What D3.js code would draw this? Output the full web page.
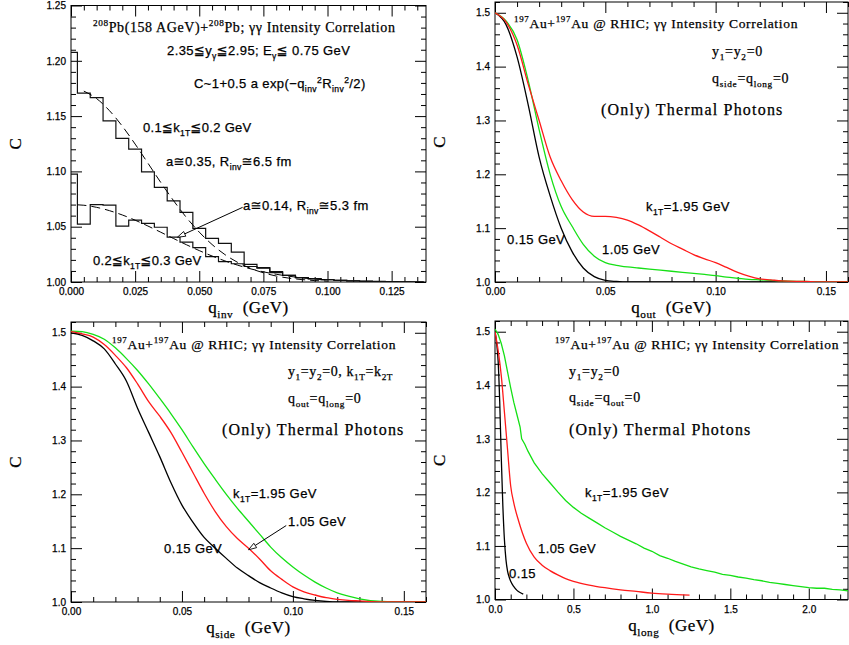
<!DOCTYPE html>
<html>
<head>
<meta charset="utf-8">
<script src="https://cdn.jsdelivr.net/npm/d3@7"></script>
<style>
body { margin: 0; background: #fff; }
svg { display: block; }
.serif { font-family: "Liberation Serif", "DejaVu Serif", serif; }
.sans { font-family: "Liberation Sans", "DejaVu Sans", sans-serif; }
</style>
</head>
<body>
<div id="chart"></div>
<script>
// ---- panel 1 : Pb+Pb histograms (bin edges, one value per bin) ----
var invEdges = [0, 0.0025, 0.0075, 0.0125, 0.0175, 0.0225, 0.0275, 0.0325, 0.0375, 0.0425, 0.0475,
    0.0525, 0.0575, 0.0625, 0.0675, 0.0725, 0.0775, 0.0825, 0.0875, 0.0925, 0.0975,
    0.1025, 0.1075, 0.1125, 0.1175, 0.1225, 0.1275, 0.1325, 0.1375];
var invUpper = [1.2077, 1.1707, 1.1667, 1.1456, 1.1299, 1.1202, 1.0996, 1.0855, 1.0734, 1.0629,
    1.0484, 1.0395, 1.0350, 1.0270, 1.0160, 1.0130, 1.0095, 1.0060, 1.0040, 1.0030,
    1.0022, 1.0016, 1.0010, 1.0008, 1.0005, 1.0003, 1.0002, 1.0001];
var invLower = [1.0976, 1.0523, 1.0700, 1.0695, 1.0505, 1.0560, 1.0530, 1.0495, 1.0405, 1.0360,
    1.0310, 1.0230, 1.0185, 1.0165, 1.0140, 1.0125, 1.0085, 1.0060, 1.0040, 1.0028,
    1.0022, 1.0015, 1.0010, 1.0006, 1.0004, 1.0002, 1.0001, 1.0000];
// dashed fits
var fitUpperQ = [0.005, 0.01, 0.015, 0.02, 0.025, 0.03, 0.035, 0.04, 0.045, 0.05, 0.055, 0.06, 0.065, 0.07, 0.075, 0.08, 0.085, 0.09, 0.095, 0.10];
var fitUpper = [1.1726, 1.1658, 1.1549, 1.1409, 1.1247, 1.1074, 1.0900, 1.0735, 1.0583, 1.0451, 1.0339, 1.0248, 1.0177, 1.0123, 1.0083, 1.0054, 1.0035, 1.0022, 1.0013, 1.0008];
var fitLowerQ = [0.0025, 0.005, 0.01, 0.015, 0.02, 0.025, 0.03, 0.035, 0.04, 0.045, 0.05, 0.055, 0.06, 0.065, 0.07, 0.075, 0.08, 0.085, 0.09, 0.095, 0.10];
var fitLower = [1.0698, 1.0694, 1.0675, 1.0645, 1.0606, 1.0559, 1.0506, 1.0450, 1.0393, 1.0337, 1.0284, 1.0235, 1.0191, 1.0152, 1.0119, 1.0092, 1.0070, 1.0052, 1.0038, 1.0027, 1.0019];

// ---- panel 2 : q_out ----
var qGrid = [0, 0.005, 0.01, 0.015, 0.02, 0.025, 0.03, 0.035, 0.04, 0.045, 0.05, 0.055, 0.06, 0.065, 0.07,
    0.075, 0.08, 0.085, 0.09, 0.095, 0.10, 0.105, 0.11, 0.115, 0.12, 0.125, 0.13, 0.14, 0.15, 0.16];
var outBlack = [1.500, 1.478, 1.418, 1.330, 1.232, 1.160, 1.100, 1.056, 1.026, 1.010, 1.003, 1.001, 1.000, 1.000, 1.000,
    1.000, 1.000, 1.000, 1.000, 1.000, 1.000, 1.000, 1.000, 1.000, 1.000, 1.000, 1.000, 1.000, 1.000, 1.000];
var outGreen = [1.500, 1.485, 1.450, 1.375, 1.283, 1.200, 1.140, 1.103, 1.070, 1.048, 1.036, 1.031, 1.028, 1.026, 1.024,
    1.022, 1.020, 1.018, 1.016, 1.014, 1.012, 1.009, 1.007, 1.005, 1.004, 1.003, 1.002, 1.001, 1.000, 1.000];
var outRed = [1.500, 1.483, 1.440, 1.368, 1.300, 1.232, 1.188, 1.153, 1.130, 1.122, 1.122, 1.120, 1.115, 1.106, 1.095,
    1.083, 1.071, 1.061, 1.051, 1.043, 1.036, 1.027, 1.018, 1.011, 1.006, 1.004, 1.002, 1.001, 1.000, 1.000];

// ---- panel 3 : q_side (same q grid) ----
var sideBlack = [1.500, 1.495, 1.485, 1.470, 1.442, 1.410, 1.360, 1.315, 1.270, 1.222, 1.180, 1.148, 1.120, 1.100, 1.081,
    1.063, 1.049, 1.036, 1.026, 1.017, 1.010, 1.006, 1.003, 1.001, 1.000, 1.000, 1.000, 1.000, 1.000, 1.000];
var sideRed = [1.502, 1.498, 1.492, 1.478, 1.458, 1.435, 1.405, 1.372, 1.345, 1.315, 1.278, 1.240, 1.202, 1.168, 1.140,
    1.118, 1.100, 1.080, 1.058, 1.042, 1.028, 1.019, 1.013, 1.008, 1.005, 1.003, 1.002, 1.000, 1.000, 1.000];
var sideGreen = [1.503, 1.502, 1.497, 1.488, 1.472, 1.452, 1.430, 1.405, 1.378, 1.350, 1.320, 1.288, 1.257, 1.228, 1.200,
    1.174, 1.150, 1.126, 1.102, 1.082, 1.065, 1.050, 1.037, 1.026, 1.017, 1.011, 1.006, 1.001, 1.000, 1.000];

// ---- panel 4 : q_long ----
var longBlackQ = [0, 0.01, 0.02, 0.03, 0.04, 0.05, 0.06, 0.07, 0.08, 0.09, 0.10, 0.12, 0.14, 0.16, 0.18];
var longBlack = [1.500, 1.480, 1.445, 1.370, 1.265, 1.175, 1.112, 1.074, 1.053, 1.042, 1.034, 1.024, 1.017, 1.013, 1.010];
var longRedQ = [0, 0.02, 0.04, 0.06, 0.08, 0.10, 0.12, 0.15, 0.20, 0.25, 0.30, 0.35, 0.40, 0.45, 0.50, 0.60, 0.70, 0.80, 0.90, 1.00, 1.10, 1.24];
var longRed = [1.500, 1.465, 1.418, 1.350, 1.280, 1.212, 1.180, 1.147, 1.105, 1.079, 1.064, 1.054, 1.046, 1.039, 1.034, 1.027, 1.022, 1.018, 1.015, 1.012, 1.010, 1.008];
var longGreenQ = [0, 0.02, 0.04, 0.06, 0.08, 0.10, 0.12, 0.14, 0.16, 0.17, 0.19, 0.21,
    0.25, 0.30, 0.35, 0.40, 0.45, 0.50, 0.55, 0.60, 0.65, 0.70, 0.75, 0.80, 0.85, 0.90, 0.95, 1.00,
    1.05, 1.10, 1.15, 1.20, 1.25, 1.30, 1.35, 1.40, 1.45, 1.50, 1.55, 1.60, 1.65, 1.70, 1.75, 1.80,
    1.85, 1.90, 1.95, 2.00, 2.05, 2.10, 2.15, 2.20, 2.25];
var longGreen = [1.505, 1.495, 1.478, 1.455, 1.425, 1.395, 1.368, 1.345, 1.322, 1.300, 1.290, 1.277,
    1.255, 1.235, 1.218, 1.201, 1.185, 1.172, 1.161, 1.152, 1.143, 1.134, 1.126, 1.118, 1.111, 1.104, 1.096, 1.090,
    1.082, 1.077, 1.071, 1.066, 1.061, 1.057, 1.054, 1.051, 1.047, 1.045, 1.042, 1.040, 1.037, 1.035, 1.032, 1.030,
    1.028, 1.026, 1.024, 1.022, 1.021, 1.021, 1.019, 1.018, 1.016];

var width = 849, height = 645;
var svg = d3.select("#chart").append("svg")
    .attr("width", width)
    .attr("height", height);

function zip(a, b) { return a.map(function(v, i) { return [v, b[i]]; }); }

// writes "x_{sub}" / "x^{sup}" strings as tspans
function rich(sel, str, size) {
    var parts = str.split(/([_^]\{[^}]*\})/);
    var shift = 0;
    parts.forEach(function(s) {
        if (!s) return;
        var m = s.match(/^([_^])\{([^}]*)\}$/);
        var t = sel.append("tspan");
        if (m) {
            var target = m[1] == "_" ? size * 0.3 : -size * 0.42;
            t.attr("dy", target - shift).style("font-size", (size * 0.66) + "px").text(m[2]);
            shift = target;
        } else {
            t.attr("dy", -shift).text(s);
            shift = 0;
        }
    });
}

function label(txt, x, y, cls, size, spacing) {
    var t = svg.append("text")
        .attr("class", cls)
        .attr("x", x).attr("y", y)
        .style("font-size", size + "px")
        .style("letter-spacing", (spacing || 0) + "px")
        .style("white-space", "pre")
        .attr("fill", "#000")
        .attr("stroke", "#000").attr("stroke-width", 0.25);
    rich(t, txt, size);
    return t;
}

function ticksBetween(lo, hi, step, majors) {
    var out = [];
    for (var i = 0; lo + i * step <= hi + 1e-9; i++) {
        var v = lo + i * step;
        var isMajor = majors.some(function(m) { return Math.abs(m - v) < step * 0.01; });
        if (!isMajor) out.push(v);
    }
    return out;
}

function panel(p) {
    var x = d3.scaleLinear().domain(p.xDomain).range([p.left, p.right]);
    var y = d3.scaleLinear().domain(p.yDomain).range([p.bottom, p.top]);
    var xMinor = ticksBetween(p.xDomain[0], p.xDomain[1], p.xMinorStep, p.xMajor);
    var yMinor = ticksBetween(p.yDomain[0], p.yDomain[1], p.yMinorStep, p.yMajor);

    var axes = svg.append("g")
        .attr("font-family", "Liberation Sans, Arial, sans-serif")
        .attr("font-size", 14);

    function put(axis, tx, ty) {
        var g = axes.append("g").attr("transform", "translate(" + tx + "," + ty + ")").call(axis);
        g.select(".domain").remove();
        g.selectAll("line").attr("stroke", "#000");
        g.selectAll("text").attr("fill", "#000").attr("stroke", "#000").attr("stroke-width", 0.25);
        return g;
    }
    var none = function() { return ""; };
    put(d3.axisBottom(x).tickValues(p.xMajor).tickSizeInner(-11).tickSizeOuter(0).tickPadding(6).tickFormat(d3.format(p.xFmt)), 0, p.bottom);
    put(d3.axisBottom(x).tickValues(xMinor).tickSizeInner(-5).tickSizeOuter(0).tickFormat(none), 0, p.bottom);
    put(d3.axisTop(x).tickValues(p.xMajor).tickSizeInner(-11).tickSizeOuter(0).tickFormat(none), 0, p.top);
    put(d3.axisTop(x).tickValues(xMinor).tickSizeInner(-5).tickSizeOuter(0).tickFormat(none), 0, p.top);
    put(d3.axisLeft(y).tickValues(p.yMajor).tickSizeInner(-11).tickSizeOuter(0).tickPadding(5).tickFormat(d3.format(p.yFmt)), p.left, 0);
    put(d3.axisLeft(y).tickValues(yMinor).tickSizeInner(-5).tickSizeOuter(0).tickFormat(none), p.left, 0);
    put(d3.axisRight(y).tickValues(p.yMajor).tickSizeInner(-11).tickSizeOuter(0).tickFormat(none), p.right, 0);
    put(d3.axisRight(y).tickValues(yMinor).tickSizeInner(-5).tickSizeOuter(0).tickFormat(none), p.right, 0);

    svg.append("rect")
        .attr("x", p.left).attr("y", p.top)
        .attr("width", p.right - p.left).attr("height", p.bottom - p.top)
        .attr("fill", "none").attr("stroke", "#000").attr("stroke-width", 1);

    svg.append("clipPath").attr("id", p.id)
        .append("rect")
        .attr("x", p.left).attr("y", p.top)
        .attr("width", p.right - p.left).attr("height", p.bottom - p.top);
    var plot = svg.append("g").attr("clip-path", "url(#" + p.id + ")");

    // axis titles
    label(p.xLabel, (p.left + p.right) / 2, p.bottom + 31, "serif", 17, 0.5)
        .attr("text-anchor", "middle");
    svg.append("text")
        .attr("class", "serif")
        .attr("transform", "translate(" + (p.left - 56) + "," + ((p.top + p.bottom) / 2) + ") rotate(-90)")
        .attr("text-anchor", "middle")
        .attr("dy", "0.35em")
        .attr("stroke", "#000").attr("stroke-width", 0.25)
        .style("font-size", "17px")
        .text("C");

    return { x: x, y: y, plot: plot };
}

function curve(P, pts, color, smooth) {
    var line = d3.line()
        .x(function(d) { return P.x(d[0]); })
        .y(function(d) { return P.y(d[1]); })
        .curve(smooth ? d3.curveMonotoneX : d3.curveLinear);
    P.plot.append("path")
        .attr("d", line(pts))
        .attr("fill", "none")
        .attr("stroke", color)
        .attr("stroke-width", 1.3);
}

function pointer(P, tip, tail) {
    var x1 = P.x(tip[0]), y1 = P.y(tip[1]), x2 = P.x(tail[0]), y2 = P.y(tail[1]);
    var ang = Math.atan2(y2 - y1, x2 - x1);
    var L = 8, W = 2.6;
    var bx = x1 + L * Math.cos(ang), by = y1 + L * Math.sin(ang);
    svg.append("line")
        .attr("x1", bx).attr("y1", by).attr("x2", x2).attr("y2", y2)
        .attr("stroke", "#000").attr("stroke-width", 1);
    var p1 = [bx - W * Math.sin(ang), by + W * Math.cos(ang)];
    var p2 = [bx + W * Math.sin(ang), by - W * Math.cos(ang)];
    svg.append("path")
        .attr("d", "M" + x1 + "," + y1 + "L" + p1 + "L" + p2 + "Z")
        .attr("fill", "#fff").attr("stroke", "#000").attr("stroke-width", 0.9);
}

var RED = "#ff1a1a", GREEN = "#16e016", BLACK = "#000";

// ---------- panel 1 ----------
var P1 = panel({
    id: "c1", left: 71, right: 426, top: 5.5, bottom: 282,
    xDomain: [0, 0.1384], yDomain: [1.0, 1.25],
    xMajor: [0, 0.025, 0.05, 0.075, 0.1, 0.125], xMinorStep: 0.005,
    yMajor: [1.0, 1.05, 1.1, 1.15, 1.2, 1.25], yMinorStep: 0.01,
    xFmt: ".3f", yFmt: ".2f", xLabel: "q_{inv}  (GeV)"
});
[invUpper, invLower].forEach(function(vals) {
    var pts = vals.map(function(v, i) { return [invEdges[i], v]; });
    pts.push([invEdges[invEdges.length - 1], vals[vals.length - 1]]);
    var step = d3.line()
        .x(function(d) { return P1.x(d[0]); })
        .y(function(d) { return P1.y(d[1]); })
        .curve(d3.curveStepAfter);
    P1.plot.append("path").attr("d", step(pts))
        .attr("fill", "none").attr("stroke", "#111").attr("stroke-width", 1.2);
});
[zip(fitUpperQ, fitUpper), zip(fitLowerQ, fitLower)].forEach(function(pts) {
    var ln = d3.line().x(function(d) { return P1.x(d[0]); }).y(function(d) { return P1.y(d[1]); })
        .curve(d3.curveMonotoneX);
    P1.plot.append("path").attr("d", ln(pts))
        .attr("fill", "none").attr("stroke", "#000").attr("stroke-width", 1)
        .attr("stroke-dasharray", "9,5");
});
pointer(P1, [0.0415, 1.0405], [0.0669, 1.0675]);

label("^{208}Pb(158 AGeV)+^{208}Pb; γγ Intensity Correlation", 93, 32, "serif", 14, 0.6);
label("2.35≦y_{γ}≦2.95; E_{γ}≦ 0.75 GeV", 167, 55, "sans", 13, 0.4);
label("C~1+0.5 a exp(−q_{inv}^{2}R_{inv}^{2}/2)", 194, 88, "sans", 13, 0.4);
label("0.1≦k_{1T}≦0.2 GeV", 143, 132, "sans", 13, 0.3);
label("a≅0.35, R_{inv}≅6.5 fm", 166, 166, "sans", 13, 0.4);
label("a≅0.14, R_{inv}≅5.3 fm", 243, 210, "sans", 13, 0.4);
label("0.2≦k_{1T}≦0.3 GeV", 93, 265, "sans", 13, 0.3);

// ---------- panel 2 ----------
var P2 = panel({
    id: "c2", left: 495, right: 848, top: 2, bottom: 282,
    xDomain: [0, 0.16], yDomain: [1.0, 1.52],
    xMajor: [0, 0.05, 0.1, 0.15], xMinorStep: 0.01,
    yMajor: [1.0, 1.1, 1.2, 1.3, 1.4, 1.5], yMinorStep: 0.02,
    xFmt: ".2f", yFmt: ".1f", xLabel: "q_{out}  (GeV)"
});
curve(P2, zip(qGrid, outBlack), BLACK, true);
curve(P2, zip(qGrid, outGreen), GREEN, true);
curve(P2, zip(qGrid, outRed), RED, true);
label("^{197}Au+^{197}Au @ RHIC; γγ Intensity Correlation", 514, 28, "serif", 13.5, 0.7);
label("y_{1}=y_{2}=0", 712, 56, "serif", 14, 0.7);
label("q_{side}=q_{long}=0", 712, 83, "serif", 14, 0.7);
label("(Only) Thermal Photons", 601, 115, "serif", 16, 1.2);
label("k_{1T}=1.95 GeV", 646, 211, "sans", 13, 0.4);
label("0.15 GeV", 507, 244, "sans", 13, 0.4);
label("1.05 GeV", 602, 254, "sans", 13, 0.4);

// ---------- panel 3 ----------
var P3 = panel({
    id: "c3", left: 71, right: 426, top: 322, bottom: 602,
    xDomain: [0, 0.16], yDomain: [1.0, 1.52],
    xMajor: [0, 0.05, 0.1, 0.15], xMinorStep: 0.01,
    yMajor: [1.0, 1.1, 1.2, 1.3, 1.4, 1.5], yMinorStep: 0.02,
    xFmt: ".2f", yFmt: ".1f", xLabel: "q_{side}  (GeV)"
});
curve(P3, zip(qGrid, sideBlack), BLACK, true);
curve(P3, zip(qGrid, sideGreen), GREEN, true);
curve(P3, zip(qGrid, sideRed), RED, true);
pointer(P3, [0.080, 1.097], [0.097, 1.142]);
label("^{197}Au+^{197}Au @ RHIC; γγ Intensity Correlation", 112, 349, "serif", 13.5, 0.7);
label("y_{1}=y_{2}=0, k_{1T}=k_{2T}", 288, 376, "serif", 14, 0.6);
label("q_{out}=q_{long}=0", 288, 403, "serif", 14, 0.7);
label("(Only) Thermal Photons", 222, 435, "serif", 16, 1.2);
label("k_{1T}=1.95 GeV", 233, 498, "sans", 13, 0.4);
label("1.05 GeV", 288, 526, "sans", 13, 0.4);
label("0.15 GeV", 164, 553, "sans", 13, 0.4);

// ---------- panel 4 ----------
var P4 = panel({
    id: "c4", left: 495, right: 848, top: 321, bottom: 599.5,
    xDomain: [0, 2.25], yDomain: [1.0, 1.52],
    xMajor: [0, 0.5, 1.0, 1.5, 2.0], xMinorStep: 0.1,
    yMajor: [1.0, 1.1, 1.2, 1.3, 1.4, 1.5], yMinorStep: 0.02,
    xFmt: ".1f", yFmt: ".1f", xLabel: "q_{long}  (GeV)"
});
curve(P4, zip(longBlackQ, longBlack), BLACK, true);
curve(P4, zip(longRedQ, longRed), RED, true);
curve(P4, zip(longGreenQ, longGreen), GREEN, false);
label("^{197}Au+^{197}Au @ RHIC; γγ Intensity Correlation", 555, 349, "serif", 13.5, 0.7);
label("y_{1}=y_{2}=0", 569, 376, "serif", 14, 0.7);
label("q_{side}=q_{out}=0", 569, 402, "serif", 14, 0.7);
label("(Only) Thermal Photons", 569, 435, "serif", 16, 1.2);
label("k_{1T}=1.95 GeV", 585, 497, "sans", 13, 0.4);
label("1.05 GeV", 538, 553, "sans", 13, 0.4);
label("0.15", 509, 578, "sans", 13, 0.4);
</script>
</body>
</html>
